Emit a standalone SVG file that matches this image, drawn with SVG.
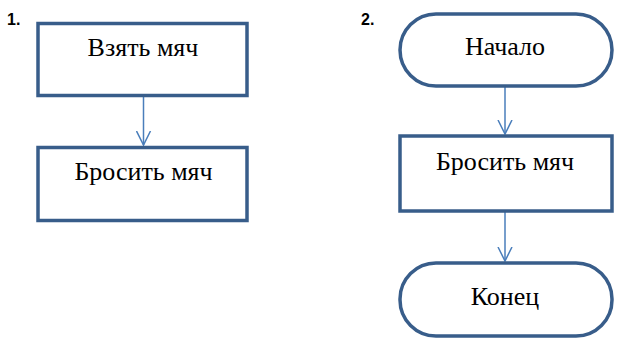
<svg xmlns="http://www.w3.org/2000/svg" width="621" height="345" viewBox="0 0 621 345">
<defs>
<style>
.n{fill:#fff;stroke:#385D8A;stroke-width:3.5}
.t{font-family:"Liberation Serif","Times New Roman",serif;font-size:26px;fill:#000;text-anchor:middle}
.num{font-family:"Liberation Sans",Arial,sans-serif;font-size:16px;font-weight:bold;fill:#000}
.c{fill:none;stroke:#4A7EBB;stroke-width:1.5}
</style>
<marker id="ah" viewBox="0 0 16 16" refX="14" refY="8" markerWidth="16" markerHeight="16" markerUnits="userSpaceOnUse" orient="auto">
<path d="M0,1 L14,8 L0,15" fill="none" stroke="#4A7EBB" stroke-width="1.5"/>
</marker>
</defs>
<text class="num" x="7" y="25">1.</text>
<text class="num" x="361" y="25">2.</text>
<g id="connectors">
<line class="c" x1="143.5" y1="97" x2="143.5" y2="145" marker-end="url(#ah)"/>
<line class="c" x1="505" y1="87" x2="505" y2="134" marker-end="url(#ah)"/>
<line class="c" x1="505" y1="212" x2="505" y2="261" marker-end="url(#ah)"/>
</g>
<g id="n1">
<rect class="n" x="38" y="23.5" width="209" height="72"/>
<text class="t" x="143" y="56">Взять мяч</text>
</g>
<g id="n2">
<rect class="n" x="38" y="147.5" width="209" height="73"/>
<text class="t" x="143.5" y="180">Бросить мяч</text>
</g>
<g id="n3">
<rect class="n" x="400" y="14" width="212" height="72" rx="36" ry="36"/>
<text class="t" x="505" y="55">Начало</text>
</g>
<g id="n4">
<rect class="n" x="400" y="136" width="212" height="75"/>
<text class="t" x="505" y="170">Бросить мяч</text>
</g>
<g id="n5">
<rect class="n" x="400" y="263" width="212" height="73" rx="36" ry="36"/>
<text class="t" x="505" y="305">Конец</text>
</g>
</svg>
